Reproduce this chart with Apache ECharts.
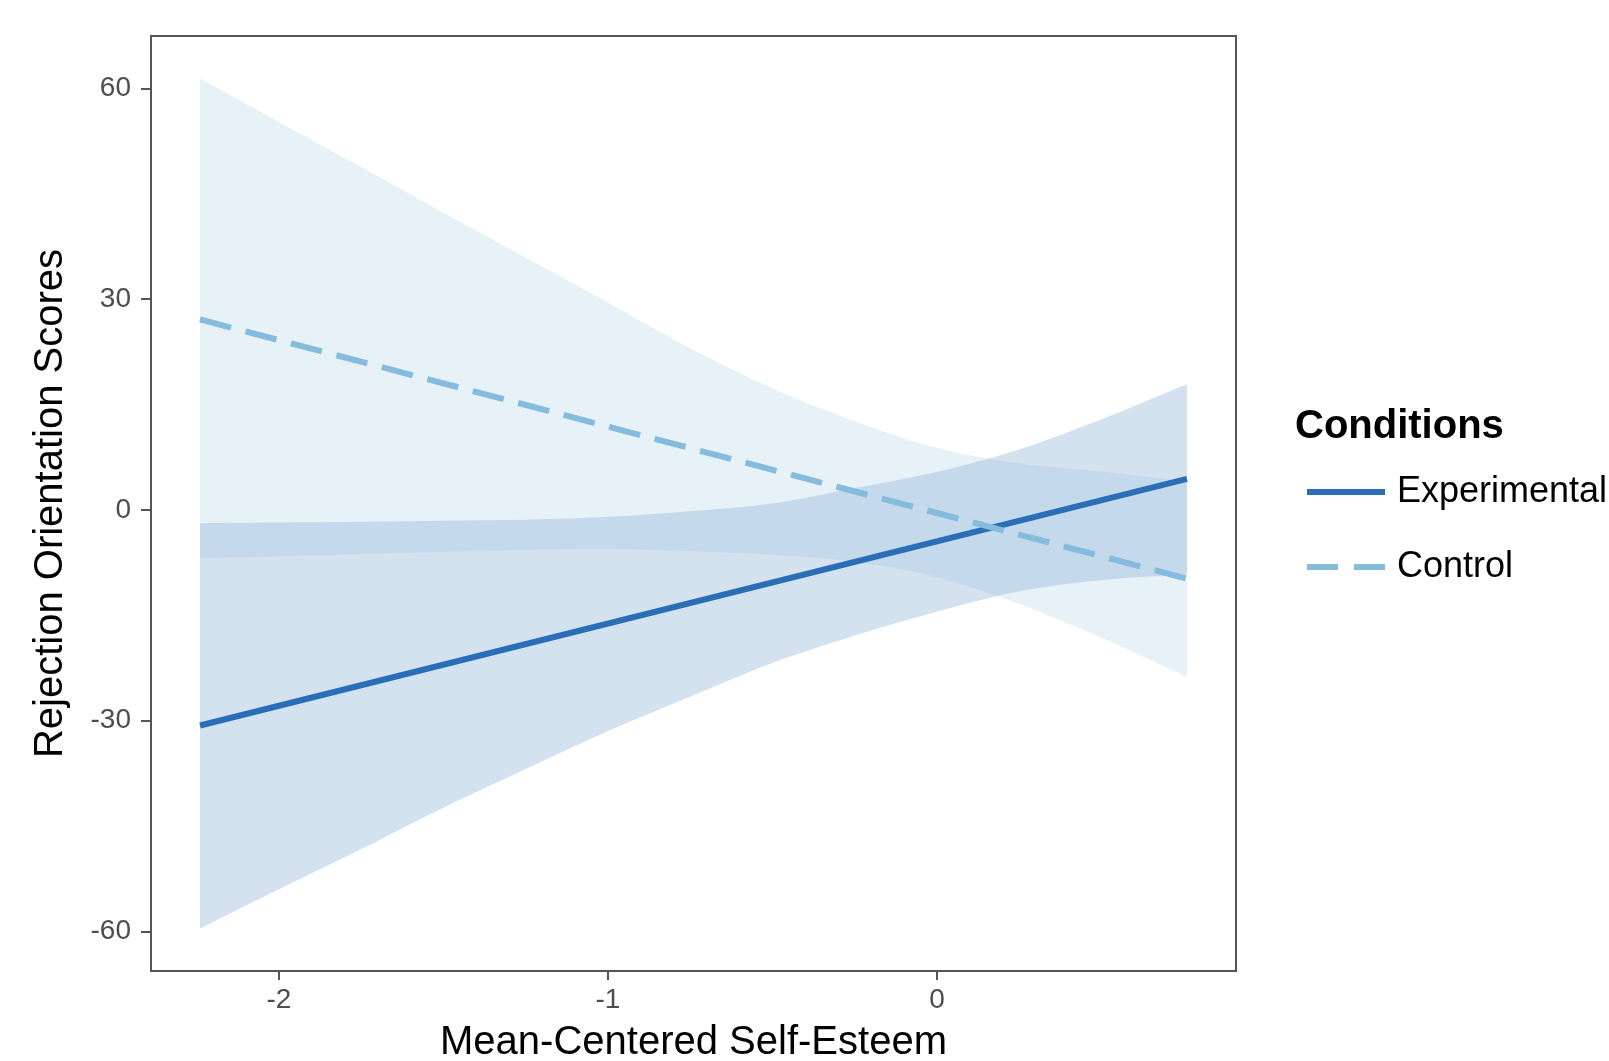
<!DOCTYPE html>
<html>
<head>
<meta charset="utf-8">
<script src="https://cdn.jsdelivr.net/npm/echarts@6/dist/echarts.min.js"></script>
<style>
  html, body { margin: 0; padding: 0; background: #ffffff; }
  #chart { width: 1609px; height: 1061px; }
</style>
</head>
<body>
<div id="chart"></div>
<script>
// Self-esteem positions at which the 95% confidence bands are given
const bandX = [-2.24, -2.0, -1.75, -1.5, -1.25, -1.0, -0.75, -0.5, -0.25, 0.0, 0.25, 0.5, 0.76];
const experimentalLower = [-59.6, -54.0, -48.3, -42.4, -36.9, -31.5, -26.6, -21.8, -17.9, -14.5, -11.6, -10.0, -9.2];
const experimentalUpper = [-1.9, -1.8, -1.7, -1.55, -1.4, -1.0, -0.2, 0.9, 3.1, 5.4, 8.6, 12.9, 17.9];
const controlLower = [-6.9, -6.6, -6.3, -6.0, -5.7, -5.55, -5.9, -6.4, -7.4, -9.6, -13.4, -18.2, -23.8];
const controlUpper = [61.4, 55.2, 48.8, 42.3, 35.9, 29.5, 23.0, 17.3, 12.6, 8.8, 6.6, 5.45, 4.0];

// Fitted regression lines (end points)
const lineX = [-2.24, 0.76];
const experimentalFit = [-30.7, 4.4];
const controlFit = [27.1, -9.8];

// Axis ticks
const xTicks = [-2, -1, 0];
const yTicks = [-60, -30, 0, 30, 60];

const FONT = '"Liberation Sans", Arial, Helvetica, sans-serif';
const EXP_COLOR = '#2a6fb6';
const CTL_COLOR = '#85bbdc';
const DASH = [32, 15];

// Smooth an edge of pixel points with a Catmull-Rom curve (drawing only)
function smoothEdge(pts, steps) {
  const out = [];
  const n = pts.length;
  for (let i = 0; i < n - 1; i++) {
    const p0 = pts[Math.max(i - 1, 0)], p1 = pts[i], p2 = pts[i + 1], p3 = pts[Math.min(i + 2, n - 1)];
    for (let s = 0; s < steps; s++) {
      const t = s / steps, t2 = t * t, t3 = t2 * t;
      const f = (a, b, c, d) => 0.5 * (2 * b + (-a + c) * t + (2 * a - 5 * b + 4 * c - d) * t2 + (-a + 3 * b - 3 * c + d) * t3);
      out.push([f(p0[0], p1[0], p2[0], p3[0]), f(p0[1], p1[1], p2[1], p3[1])]);
    }
  }
  out.push(pts[n - 1]);
  return out;
}

// A confidence ribbon drawn as one filled polygon in axis coordinates
function ribbon(name, lower, upper, fill, z) {
  return {
    type: 'custom',
    name: name,
    silent: true,
    z: z,
    data: bandX.map((x, i) => [x, lower[i], upper[i]]),
    encode: { x: 0, y: [1, 2] },
    renderItem: function (params, api) {
      if (params.dataIndex !== 0) return null;
      const top = bandX.map((x, i) => api.coord([x, upper[i]]));
      const bottom = bandX.map((x, i) => api.coord([x, lower[i]]));
      const pts = smoothEdge(top, 10).concat(smoothEdge(bottom, 10).reverse());
      return { type: 'polygon', shape: { points: pts }, style: { fill: fill } };
    }
  };
}

const chart = echarts.init(document.getElementById('chart'), null, { renderer: 'canvas' });

chart.setOption({
  animation: false,
  backgroundColor: '#ffffff',
  textStyle: { fontFamily: FONT },
  title: {
    text: 'Conditions',
    left: 1295,
    top: 407,
    padding: 0,
    textStyle: { fontFamily: FONT, fontSize: 40, fontWeight: 'bold', color: '#000000' }
  },
  legend: {
    data: [
      { name: 'Experimental' },
      { name: 'Control', lineStyle: { type: [31, 16] } }
    ],
    orient: 'vertical',
    left: 1304,
    top: 474,
    padding: 0,
    itemWidth: 78,
    itemHeight: 36,
    itemGap: 39,
    selectedMode: false,
    itemStyle: { opacity: 0 },
    lineStyle: { width: 6, cap: 'butt' },
    textStyle: { fontFamily: FONT, fontSize: 36, color: '#000000', padding: [0, 0, 0, 7] }
  },
  grid: {
    left: 151, top: 36, width: 1085, height: 935,
    outerBoundsMode: 'none',
    containLabel: false,
    show: true, borderColor: '#555555', borderWidth: 2, backgroundColor: '#ffffff'
  },
  xAxis: {
    type: 'value',
    min: -2.389, max: 0.909,
    name: 'Mean-Centered Self-Esteem',
    nameLocation: 'middle',
    nameGap: 52,
    nameTextStyle: { fontFamily: FONT, fontSize: 40, color: '#000000' },
    axisLine: { show: true, onZero: false, lineStyle: { color: '#555555', width: 2 } },
    axisTick: { show: true, length: 9, customValues: xTicks, lineStyle: { color: '#555555', width: 2 } },
    axisLabel: { customValues: xTicks, margin: 15, fontFamily: FONT, fontSize: 28, color: '#4d4d4d' },
    splitLine: { show: false }
  },
  yAxis: {
    type: 'value',
    min: -65.65, max: 67.45,
    name: 'Rejection Orientation Scores',
    nameLocation: 'middle',
    nameRotate: 90,
    nameGap: 80,
    nameTextStyle: { fontFamily: FONT, fontSize: 40, color: '#000000' },
    axisLine: { show: true, onZero: false, lineStyle: { color: '#555555', width: 2 } },
    axisTick: { show: true, length: 10, customValues: yTicks, lineStyle: { color: '#555555', width: 2 } },
    axisLabel: { customValues: yTicks, margin: 20, fontFamily: FONT, fontSize: 28, color: '#4d4d4d' },
    splitLine: { show: false }
  },
  series: [
    ribbon('Experimental band', experimentalLower, experimentalUpper, 'rgba(42,111,182,0.2)', 1),
    ribbon('Control band', controlLower, controlUpper, 'rgba(133,187,220,0.2)', 2),
    {
      type: 'line',
      name: 'Experimental',
      z: 3,
      symbol: 'none',
      silent: true,
      data: lineX.map((x, i) => [x, experimentalFit[i]]),
      color: EXP_COLOR,
      lineStyle: { color: EXP_COLOR, width: 6, cap: 'butt' }
    },
    {
      type: 'line',
      name: 'Control',
      z: 4,
      symbol: 'none',
      silent: true,
      data: lineX.map((x, i) => [x, controlFit[i]]),
      color: CTL_COLOR,
      lineStyle: { color: CTL_COLOR, width: 6, type: DASH, cap: 'butt' }
    }
  ]
});
</script>
</body>
</html>
